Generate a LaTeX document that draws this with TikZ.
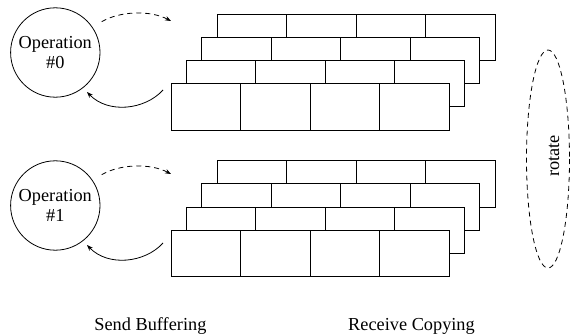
\documentclass[tikz,border=0pt]{standalone}
\usepackage{fontspec}
\setmainfont{Liberation Serif}
\newfontfamily\timesfont{Liberation Serif}
\usetikzlibrary{arrows.meta}
\tikzset{
  every node/.style={font=\timesfont\fontsize{18.3}{20}\selectfont},
  opcircle/.style={draw, circle, minimum size=89.4pt, inner sep=0pt, align=center, line width=0.8pt},
  layerbox/.style={draw, fill=white, line width=0.8pt},
  sendarrow/.style={dashed, dash pattern=on 5pt off 4pt, line width=0.8pt, -{Stealth[length=6pt,width=4.5pt]}},
  backarrow/.style={line width=0.8pt, -{Stealth[length=6pt,width=4.5pt]}},
  rotellipse/.style={dashed, dash pattern=on 5pt off 4pt, line width=0.8pt}
}
\begin{document}
\begin{tikzpicture}[x=1pt,y=-1pt]
\useasboundingbox (0,0) rectangle (570,334);
% stacked buffers
\foreach \g in {0,146.5} {
  \foreach \k in {3,2,1,0} {
    \pgfmathsetmacro\lx{171+15.33*\k}
    \pgfmathsetmacro\ty{83.7-23.2*\k+\g}
    \draw[layerbox] (\lx,\ty) rectangle ++(278,46.4);
    \foreach \c in {1,2,3} \draw[line width=0.8pt] (\lx+69.5*\c,\ty) -- ++(0,46.4);
  }
}
% operations
\node[opcircle] (op0) at (55.3,52.5) {Operation\\\#0};
\node[opcircle] (op1) at (55.3,205.5) {Operation\\\#1};
% arrow end points
\coordinate (s0a) at (101.7,21.7);
\coordinate (s0b) at (171,21);
\coordinate (r0a) at (163,90);
\coordinate (r0b) at (87,92);
\coordinate (s1a) at (101.7,174.7);
\coordinate (s1b) at (171,174);
\coordinate (r1a) at (163,243);
\coordinate (r1b) at (87,245);
\draw[sendarrow] (s0a) .. controls (120,11) and (150,10) .. (s0b);
\draw[backarrow] (r0a) .. controls (145,110) and (108,114) .. (r0b);
\draw[sendarrow] (s1a) .. controls (120,164) and (150,163) .. (s1b);
\draw[backarrow] (r1a) .. controls (145,263) and (108,267) .. (r1b);
% rotate ellipse
\draw[rotellipse] (548,159) ellipse (21.5 and 109);
\node[rotate=90] (rot) at (554,156) {rotate};
% labels
\node[anchor=base] (send) at (150.4,330) {Send Buffering};
\node[anchor=base] (recv) at (411.5,330) {Receive Copying};
\end{tikzpicture}
\end{document}
